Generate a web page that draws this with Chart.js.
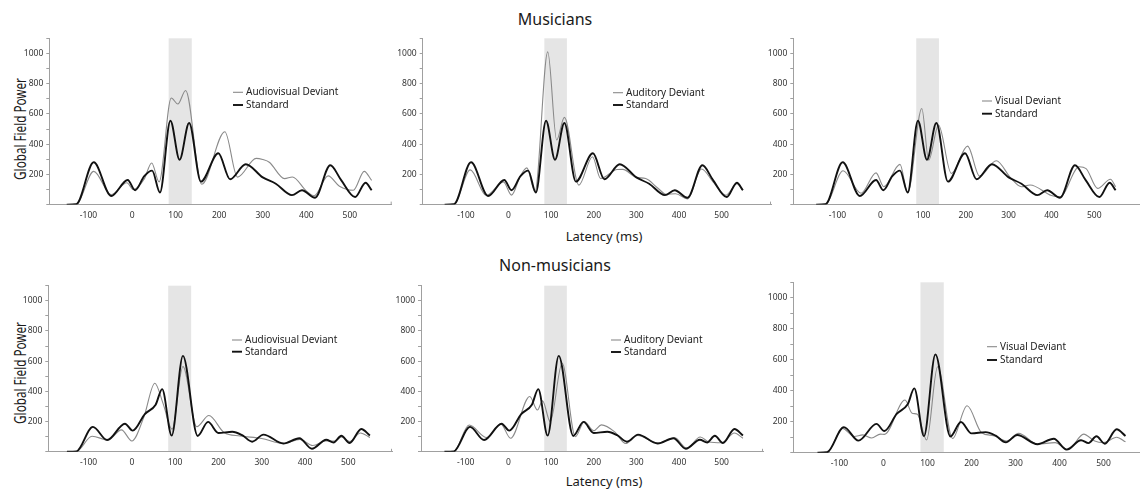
<!DOCTYPE html>
<html>
<head>
<meta charset="utf-8">
<title>Global Field Power</title>
<script src="https://cdn.jsdelivr.net/npm/chart.js@4.4.1/dist/chart.umd.min.js"></script>
<style>
  html, body { margin: 0; padding: 0; background: #fff; }
  body { width: 1140px; height: 492px; position: relative; overflow: hidden; font-family: 'Noto Sans', sans-serif; color: #1a1a1a; }
  canvas { position: absolute; }
  .lbl { position: absolute; white-space: nowrap; transform: translate(-50%, -50%); }
  .group { font-size: 16px; }
  .xlab { font-size: 13px; }
  .ylab { font-size: 16px; transform: translate(-50%, -50%) rotate(-90deg) scaleX(0.73); }
</style>
</head>
<body>
<div class="lbl group" style="left:555px; top:18.5px">Musicians</div>
<div class="lbl xlab" style="left:604px; top:235.5px">Latency (ms)</div>
<div class="lbl group" style="left:555px; top:265px">Non-musicians</div>
<div class="lbl xlab" style="left:604px; top:481px">Latency (ms)</div>
<div class="lbl ylab" style="left:20px; top:129px">Global Field Power</div>
<div class="lbl ylab" style="left:20px; top:373px">Global Field Power</div>

<script>
// --- data: [latency ms, global field power] ---
const musStandard = [[-150,0],[-128,3],[-88,280],[-48,57],[-10,163],[7,95],[28,188],[46,225],[64,80],[88,555],[109,297],[131,540],[158,152],[198,340],[225,168],[261,267],[300,180],[330,138],[367,63],[390,95],[420,45],[455,260],[480,162],[512,50],[536,145],[550,95]];
const musAudiovisual = [[-150,0],[-128,2],[-88,220],[-48,65],[-12,145],[3,100],[28,170],[45,275],[62,150],[90,705],[105,665],[123,755],[160,135],[213,482],[242,182],[285,306],[300,298],[315,280],[350,172],[368,183],[400,90],[418,58],[450,190],[476,122],[508,95],[533,220],[550,160]];
const musAuditory = [[-150,0],[-128,2],[-90,230],[-52,60],[-12,150],[7,63],[27,184],[43,243],[62,85],[92,1010],[113,427],[131,577],[165,129],[197,317],[216,173],[255,232],[268,233],[300,180],[322,172],[350,110],[370,68],[392,72],[420,38],[453,235],[480,150],[510,62],[536,138],[550,95]];
const musVisual = [[-150,0],[-128,2],[-87,224],[-45,75],[-10,210],[8,118],[46,266],[64,78],[97,636],[113,294],[136,526],[166,206],[204,387],[232,189],[271,290],[305,175],[330,118],[350,130],[400,60],[420,52],[465,250],[481,238],[508,107],[538,168],[550,118]];

const nonStandard = [[-150,0],[-128,3],[-90,165],[-57,78],[-16,186],[2,140],[30,250],[55,312],[70,415],[92,107],[118,635],[152,105],[176,198],[200,125],[232,133],[255,110],[278,67],[304,114],[350,55],[387,90],[416,20],[449,80],[466,62],[484,106],[503,58],[530,151],[550,108]];
const nonAudiovisual = [[-150,0],[-128,2],[-92,103],[-55,78],[-24,145],[0,72],[28,232],[53,454],[72,321],[93,150],[118,565],[150,166],[178,240],[213,128],[250,105],[300,88],[350,55],[388,82],[418,42],[448,72],[470,72],[484,98],[503,68],[528,125],[550,95]];
const nonAuditory = [[-150,0],[-128,2],[-92,177],[-51,95],[-18,184],[5,90],[50,366],[68,277],[80,337],[98,200],[126,586],[157,100],[178,200],[200,140],[218,178],[250,130],[275,55],[303,108],[350,58],[390,92],[418,25],[450,98],[470,65],[500,60],[530,125],[550,90]];
const nonVisual = [[-150,0],[-128,2],[-93,157],[-67,105],[-47,115],[-27,95],[-7,120],[2,118],[49,340],[65,255],[77,248],[98,82],[123,555],[157,92],[190,303],[223,129],[250,110],[280,75],[307,125],[350,55],[390,65],[420,20],[455,120],[480,75],[500,65],[530,100],[550,70]];

const latencyTicks = [-100, 0, 100, 200, 300, 400, 500];
const powerTicks = [200, 400, 600, 800, 1000];
const analysisWindow = [84, 137];

// --- panel layout (page pixels of each plot area) ---
const panels = [
  { dev: musAudiovisual, std: musStandard, name: 'Audiovisual Deviant', area: [49.3, 38.3, 391.7, 204.6], xr: [-190, 596], leg: [233, 92.3, 12.7] },
  { dev: musAuditory,    std: musStandard, name: 'Auditory Deviant',    area: [422.7, 38.3, 771, 204.6], xr: [-201.5, 616], leg: [613, 92.7, 12.3] },
  { dev: musVisual,      std: musStandard, name: 'Visual Deviant',      area: [793.3, 38.3, 1140, 204.6], xr: [-203.4, 607], leg: [982, 101, 12.7] },
  { dev: nonAudiovisual, std: nonStandard, name: 'Audiovisual Deviant', area: [48.3, 285.7, 392, 451.8], xr: [-193, 601], leg: [232, 340, 11.7] },
  { dev: nonAuditory,    std: nonStandard, name: 'Auditory Deviant',    area: [421, 285.7, 763, 451.8], xr: [-205, 597], leg: [611, 340, 12] },
  { dev: nonVisual,      std: nonStandard, name: 'Visual Deviant',      area: [793.3, 282.3, 1140, 452.7], xr: [-205, 583], leg: [987, 346.7, 13.3] }
];

Chart.defaults.font.family = "'Noto Sans', sans-serif";

const windowBand = {
  id: 'windowBand',
  beforeDraw(chart) {
    const { ctx, chartArea, scales: { x } } = chart;
    const x0 = x.getPixelForValue(analysisWindow[0]);
    const x1 = x.getPixelForValue(analysisWindow[1]);
    ctx.save();
    ctx.fillStyle = '#e5e5e5';
    ctx.fillRect(x0, chartArea.top, x1 - x0, chartArea.bottom - chartArea.top);
    ctx.restore();
  },
  afterDraw(chart) {
    // little closing tick at the right end of the x axis
    const { ctx, chartArea } = chart;
    if (chartArea.right >= chart.width - 1) return;
    ctx.save();
    ctx.strokeStyle = '#a0a0a0';
    ctx.lineWidth = 1;
    ctx.beginPath();
    ctx.moveTo(chartArea.right - 0.5, chartArea.bottom);
    ctx.lineTo(chartArea.right - 0.5, chartArea.bottom - 3);
    ctx.stroke();
    ctx.restore();
  }
};

const cornerLegend = {
  id: 'cornerLegend',
  afterDatasetsDraw(chart, args, opts) {
    const ctx = chart.ctx;
    ctx.save();
    ctx.font = "10px 'Noto Sans'";
    ctx.textBaseline = 'middle';
    chart.data.datasets.forEach((ds, i) => {
      const y = opts.y + i * opts.gap;
      ctx.strokeStyle = ds.borderColor;
      ctx.lineWidth = ds.borderWidth;
      ctx.beginPath();
      ctx.moveTo(opts.x, y);
      ctx.lineTo(opts.x + 10, y);
      ctx.stroke();
      ctx.fillStyle = '#222';
      ctx.fillText(ds.label, opts.x + 13, y);
    });
    ctx.restore();
  }
};

const toPoints = pairs => pairs.map(([x, y]) => ({ x, y }));

panels.forEach(p => {
  const [l, t, r, b] = p.area;
  const cl = Math.floor(l) - 44;
  const ct = Math.floor(t) - 8;
  const cr = Math.min(1140, Math.ceil(r) + 6);
  const cb = Math.ceil(b) + 22;
  const canvas = document.createElement('canvas');
  canvas.width = cr - cl;
  canvas.height = cb - ct;
  canvas.style.left = cl + 'px';
  canvas.style.top = ct + 'px';
  document.body.appendChild(canvas);

  new Chart(canvas, {
    type: 'line',
    data: {
      datasets: [
        { label: p.name, data: toPoints(p.dev), borderColor: '#8a8a8a', borderWidth: 1.1, order: 1 },
        { label: 'Standard', data: toPoints(p.std), borderColor: '#111', borderWidth: 1.9, order: 0 }
      ]
    },
    options: {
      responsive: false,
      animation: false,
      events: [],
      layout: { padding: { left: 0, bottom: 0, top: t - ct, right: cr - r } },
      elements: { point: { radius: 0 }, line: { cubicInterpolationMode: 'monotone' } },
      plugins: {
        legend: { display: false },
        tooltip: { enabled: false },
        cornerLegend: { x: p.leg[0] - cl, y: p.leg[1] - ct, gap: p.leg[2] }
      },
      scales: {
        x: {
          type: 'linear', min: p.xr[0], max: p.xr[1],
          afterFit: s => { s.height = cb - b; },
          afterBuildTicks: s => { s.ticks = latencyTicks.map(v => ({ value: v })); },
          grid: { display: false, drawTicks: false },
          border: { color: '#a0a0a0' },
          ticks: { color: '#333', font: { size: 8.5 }, padding: 6, maxRotation: 0, autoSkip: false }
        },
        y: {
          min: 0, max: 1100,
          afterFit: s => { s.width = l - cl; },
          grid: { drawOnChartArea: false, tickLength: 3, color: '#a0a0a0' },
          border: { color: '#a0a0a0' },
          ticks: {
            stepSize: 100, autoSkip: false, color: '#333', font: { size: 8.5 }, padding: 3,
            callback: v => (powerTicks.includes(v) ? String(v) : '')
          }
        }
      }
    },
    plugins: [windowBand, cornerLegend]
  });
});
</script>
</body>
</html>
